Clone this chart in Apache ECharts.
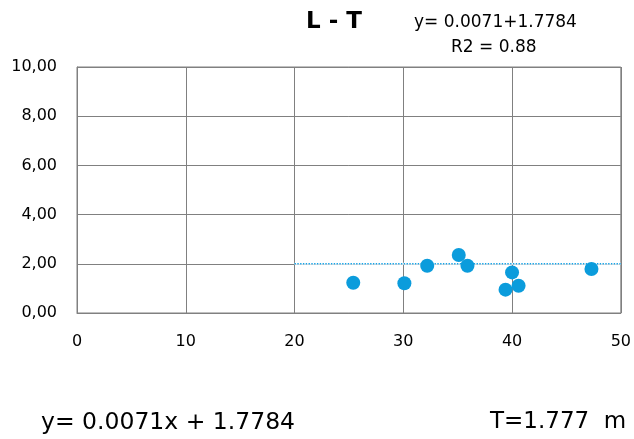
<!DOCTYPE html>
<html><head><meta charset="utf-8">
<script src="https://cdn.jsdelivr.net/npm/echarts@6/dist/echarts.min.js"></script>
<style>html,body{margin:0;padding:0;background:#fff}#c{width:634px;height:439px}</style>
</head><body><div id="c"></div>
<script>
var xValues = [25.4, 30.1, 32.2, 35.1, 35.9, 40.0, 39.4, 40.6, 47.3];
var yValues = [1.23, 1.21, 1.92, 2.36, 1.92, 1.65, 0.95, 1.11, 1.79];
var trendX = [20, 50];
var trendY = [2.0, 2.0];
var xTicks = [0, 10, 20, 30, 40, 50];
var yTicks = [0, 2, 4, 6, 8, 10];

var font = '"DejaVu Sans", sans-serif';
var trendData = trendX.map(function (x, i) { return [x, trendY[i]]; });
var chart = echarts.init(document.getElementById('c'));
chart.setOption({
  animation: false,
  backgroundColor: '#fff',
  grid: {left: 77, right: 9, top: 67, bottom: 126, show: true, borderColor: '#808080', borderWidth: 1},
  title: [
    {text: 'L - T', left: 334, top: 11, padding: 0, textAlign: 'center', textStyle: {fontFamily: font, fontSize: 23, fontWeight: 'bold', color: '#000'}},
    {text: 'y= 0.0071+1.7784', left: 414, top: 14, padding: 0, textStyle: {fontFamily: font, fontSize: 17, fontWeight: 'normal', color: '#000'}},
    {text: 'R2 = 0.88', left: 451, top: 39, padding: 0, textStyle: {fontFamily: font, fontSize: 17, fontWeight: 'normal', color: '#000'}},
    {text: 'y= 0.0071x + 1.7784', left: 41, top: 411, padding: 0, textStyle: {fontFamily: font, fontSize: 23.5, fontWeight: 'normal', color: '#000'}},
    {text: 'T=1.777  m', left: 490, top: 411, padding: 0, textStyle: {fontFamily: font, fontSize: 23, fontWeight: 'normal', color: '#000'}}
  ],
  xAxis: {
    type: 'value', min: xTicks[0], max: xTicks[xTicks.length - 1], interval: 10,
    axisLine: {show: true, lineStyle: {color: '#808080'}},
    axisTick: {show: false},
    splitLine: {show: true, lineStyle: {color: '#808080', width: 1}},
    axisLabel: {fontFamily: font, fontSize: 16, color: '#000', margin: 21}
  },
  yAxis: {
    type: 'value', min: yTicks[0], max: yTicks[yTicks.length - 1], interval: 2,
    axisLine: {show: true, lineStyle: {color: '#808080'}},
    axisTick: {show: false},
    splitLine: {show: true, lineStyle: {color: '#808080', width: 1}},
    axisLabel: {fontFamily: font, fontSize: 16, color: '#000', margin: 20,
      formatter: function (v) { return v.toFixed(2).replace('.', ','); }}
  },
  series: [
    {
      type: 'line', data: trendData, silent: true,
      symbol: 'none', lineStyle: {color: '#ffffff', width: 2, type: 'solid'}, z: 1
    },
    {
      type: 'line', data: trendData,
      symbol: 'none', lineStyle: {color: '#15A2E6', width: 1.4, type: [1.4, 1.4]}, z: 2
    },
    {
      type: 'scatter', data: xValues.map(function (x, i) { return [x, yValues[i]]; }),
      symbol: 'circle', symbolSize: 14, itemStyle: {color: '#0B9CDC', opacity: 1}, z: 3
    }
  ]
});
</script></body></html>
